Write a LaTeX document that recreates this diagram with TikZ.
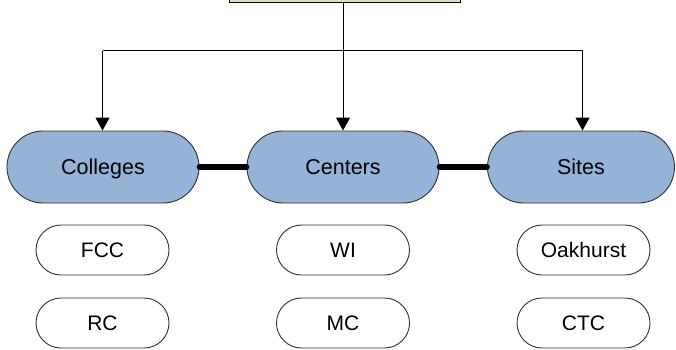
\documentclass[tikz,border=0pt]{standalone}
\usepackage{fontspec}
\setmainfont{Liberation Sans}
\usetikzlibrary{arrows.meta,shapes.misc}
\definecolor{topgreen}{HTML}{D7E4BD}
\definecolor{nodeblue}{HTML}{95B3D7}
\definecolor{edgegray}{HTML}{303030}
\tikzset{
  x=1pt,y=-1pt,
  mainbox/.style={rounded rectangle, draw=edgegray, line width=0.9pt, fill=nodeblue,
    minimum height=72pt, inner sep=0pt, text height=15.5pt, text depth=0pt,
    font=\fontsize{21.5}{25}\selectfont},
  subbox/.style={rounded rectangle, draw=edgegray, line width=0.9pt, fill=white,
    minimum width=133pt, minimum height=50pt, inner sep=0pt, text height=15pt, text depth=0pt,
    font=\fontsize{21}{25}\selectfont},
  arrowline/.style={draw=black, line width=1pt, -{Triangle[width=14pt,length=13pt]}},
  treeline/.style={draw=black, line width=1pt},
  linkline/.style={draw=black, line width=5.5pt, line cap=round},
}
\begin{document}
\begin{tikzpicture}
\useasboundingbox (0,0) rectangle (676,349);
\node[draw=black, line width=1pt, fill=topgreen, minimum width=231pt, minimum height=40pt, inner sep=0pt] (top) at (344.5,-18) {};
\node[mainbox, minimum width=192pt] (colleges) at (103,167) {Colleges};
\node[mainbox, minimum width=192pt] (centers) at (343,167) {Centers};
\node[mainbox, minimum width=187pt] (sites) at (581,167) {Sites};
\node[subbox] (fcc) at (102.5,250) {FCC};
\node[subbox] (rc) at (102.5,323) {RC};
\node[subbox] (wi) at (343,250) {WI};
\node[subbox] (mc) at (343,323) {MC};
\node[subbox] (oak) at (583.5,250) {Oakhurst};
\node[subbox] (ctc) at (583.5,323) {CTC};
\coordinate (hub) at (343,50.5);
\coordinate (lefttop) at (102.5,50.5);
\coordinate (righttop) at (582.5,50.5);
\draw[treeline] (top.south -| hub) -- (hub);
\draw[treeline] (lefttop) -- (righttop);
\draw[arrowline] (lefttop) -- (lefttop |- colleges.north);
\draw[arrowline] (hub) -- (centers.north);
\draw[arrowline] (righttop) -- (righttop |- sites.north);
\draw[linkline] (colleges.east) -- (centers.west);
\draw[linkline] (centers.east) -- (sites.west);
\end{tikzpicture}
\end{document}
